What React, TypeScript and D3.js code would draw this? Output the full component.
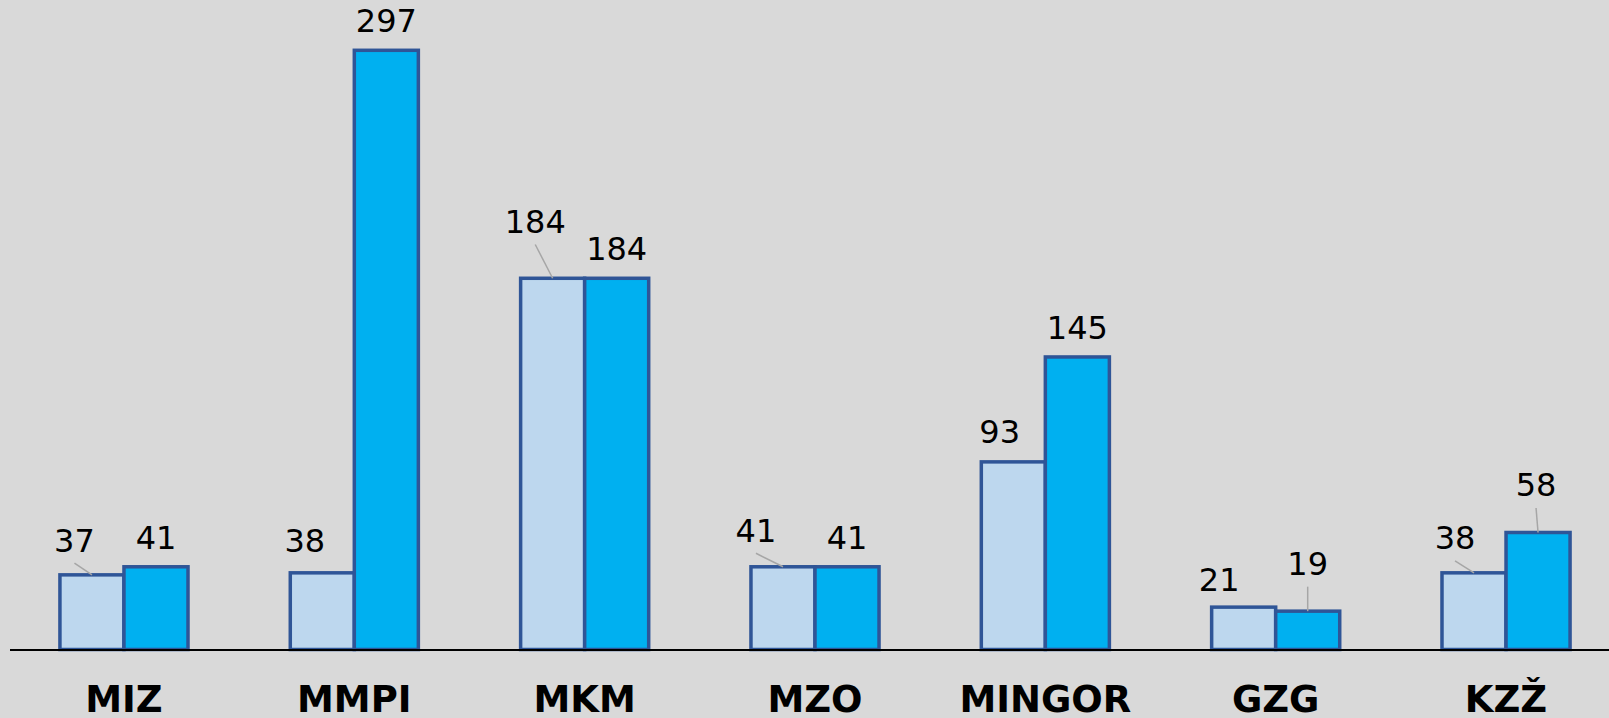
import React from 'react'
import { scaleBand, scaleLinear } from 'd3'

const categories = ['MIZ', 'MMPI', 'MKM', 'MZO', 'MINGOR', 'GZG', 'KZŽ']
const seriesNames = ['prije', 'poslije']
const valuesA = [37, 38, 184, 41, 93, 21, 38]
const valuesB = [41, 297, 184, 41, 145, 19, 58]

// label nudges (Excel moved some labels by hand) and leader line flags
const labelDxA = [-17.5, -17.5, -17.4, -27, -13.6, -24.5, -19]
const labelDyA = [-5.3, -3, -27.3, -7, -0.6, 1.6, -5.5]
const leaderA = [true, false, true, true, false, false, true]
const labelDxB = [0, 0, 0, 0, 0, 0, -2]
const labelDyB = [0, 0, 0, 0, 0, -18, -18]
const leaderB = [false, false, false, false, false, true, true]

const fills = ['#BDD7EE', '#00B0F0']

const App = () => {
    const width = 1609
    const height = 718
    const baseY = 649.5

    const x = scaleBand().domain(categories).range([8.8, 1621.2]).paddingInner(0.444).paddingOuter(0.222)
    const xs = scaleBand().domain(seriesNames).range([0, x.bandwidth()])
    const y = scaleLinear().domain([0, 297]).range([baseY, 50.3])

    const series = [
        { name: seriesNames[0], values: valuesA, dx: labelDxA, dy: labelDyA, leader: leaderA, fill: fills[0] },
        { name: seriesNames[1], values: valuesB, dx: labelDxB, dy: labelDyB, leader: leaderB, fill: fills[1] },
    ]

    return (
        <svg width={width} height={height} style={{ position: 'absolute', left: 0, top: 0, display: 'block' }}
            fontFamily="'DejaVu Sans', Verdana, sans-serif">
            <rect x={0} y={0} width={width} height={height} fill="#D9D9D9" />
            {series.map((s) => (
                <g key={s.name}>
                    {categories.map((c, i) => {
                        const bx = (x(c) || 0) + (xs(s.name) || 0)
                        const by = y(s.values[i])
                        return (
                            <rect key={c} x={bx} y={by} width={xs.bandwidth()} height={baseY - by}
                                fill={s.fill} stroke="#2F5597" strokeWidth={3.5} />
                        )
                    })}
                </g>
            ))}
            <line x1={10} x2={width} y1={baseY + 0.5} y2={baseY + 0.5} stroke="#000" strokeWidth={2} />
            {series.map((s) => (
                <g key={s.name + '-lbl'}>
                    {categories.map((c, i) => {
                        const cx = (x(c) || 0) + (xs(s.name) || 0) + xs.bandwidth() / 2
                        const top = y(s.values[i])
                        const lx = cx + s.dx[i]
                        const ly = top - 18 + s.dy[i]
                        return (
                            <g key={c}>
                                {s.leader[i] && (
                                    <line x1={lx} y1={ly + 11.5} x2={cx} y2={top} stroke="#A6A6A6" strokeWidth={1.5} />
                                )}
                                <text x={lx} y={ly} textAnchor="middle" fontSize={32} fill="#000">{s.values[i]}</text>
                            </g>
                        )
                    })}
                </g>
            ))}
            {categories.map((c) => (
                <text key={c} x={(x(c) || 0) + x.bandwidth() / 2} y={711.5} textAnchor="middle"
                    fontSize={37} fontWeight="bold" fill="#000">{c}</text>
            ))}
        </svg>
    )
}

export default App
